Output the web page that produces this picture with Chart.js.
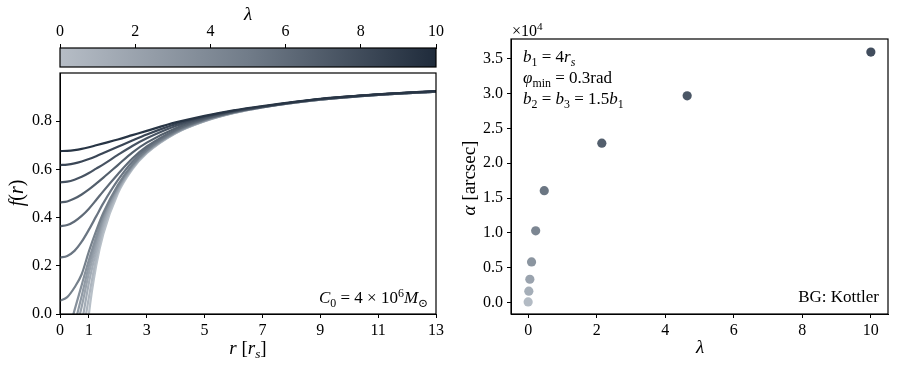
<!DOCTYPE html>
<html>
<head>
<meta charset="utf-8">
<script src="https://cdn.jsdelivr.net/npm/chart.js@4.4.1/dist/chart.umd.min.js"></script>
<style>
  html, body { margin: 0; padding: 0; background: #fff; }
  #wrap { position: relative; width: 897px; height: 368px; }
  #wrap canvas { position: absolute; left: 0; top: 0; }
</style>
</head>
<body>
<div id="wrap">
  <canvas id="cbar" width="897" height="368"></canvas>
  <canvas id="fr" width="897" height="368"></canvas>
  <canvas id="alpha" width="897" height="368"></canvas>
</div>
<script>
// f(r) profiles, lightest (lambda = 0) to darkest
const rGrid = [0, 0.25, 0.5, 0.75, 1, 1.25, 1.5, 2, 2.5, 3, 4, 5, 6, 7, 9, 11, 13];
const fCurve01 = [null, null, null, -0.333, 0, 0.2, 0.333, 0.5, 0.6, 0.667, 0.75, 0.8, 0.833, 0.857, 0.889, 0.909, 0.923];
const fCurve02 = [null, null, -0.35, -0.12, 0.07, 0.23, 0.355, 0.508, 0.604, 0.669, 0.751, 0.8, 0.834, 0.857, 0.889, 0.909, 0.923];
const fCurve03 = [null, null, -0.2, -0.04, 0.13, 0.26, 0.375, 0.515, 0.607, 0.671, 0.752, 0.801, 0.834, 0.857, 0.889, 0.909, 0.923];
const fCurve04 = [null, -0.3, -0.1, 0.03, 0.17, 0.285, 0.39, 0.52, 0.61, 0.673, 0.753, 0.802, 0.835, 0.858, 0.889, 0.909, 0.923];
const fCurve05 = [null, -0.2, -0.05, 0.075, 0.2, 0.305, 0.4, 0.525, 0.613, 0.675, 0.754, 0.803, 0.835, 0.858, 0.889, 0.909, 0.923];
const fCurve06 = [-0.13, -0.09, 0.015, 0.12, 0.225, 0.32, 0.41, 0.53, 0.616, 0.677, 0.755, 0.803, 0.836, 0.858, 0.89, 0.909, 0.923];
const fCurve07 = [0.055, 0.07, 0.11, 0.165, 0.26, 0.345, 0.42, 0.535, 0.62, 0.68, 0.757, 0.805, 0.837, 0.859, 0.89, 0.91, 0.923];
const fCurve08 = [0.234, 0.241, 0.262, 0.3, 0.35, 0.405, 0.46, 0.555, 0.632, 0.687, 0.761, 0.807, 0.838, 0.86, 0.89, 0.91, 0.924];
const fCurve09 = [0.364, 0.369, 0.384, 0.407, 0.437, 0.473, 0.51, 0.58, 0.645, 0.695, 0.764, 0.808, 0.837, 0.859, 0.891, 0.91, 0.924];
const fCurve10 = [0.463, 0.467, 0.479, 0.496, 0.517, 0.541, 0.566, 0.618, 0.67, 0.711, 0.771, 0.811, 0.839, 0.859, 0.891, 0.91, 0.924];
const fCurve11 = [0.546, 0.549, 0.557, 0.569, 0.585, 0.603, 0.621, 0.66, 0.697, 0.729, 0.78, 0.815, 0.841, 0.86, 0.892, 0.911, 0.924];
const fCurve12 = [0.618, 0.62, 0.625, 0.633, 0.643, 0.655, 0.668, 0.694, 0.72, 0.745, 0.788, 0.819, 0.843, 0.861, 0.892, 0.911, 0.925];
const fCurve13 = [0.676, 0.677, 0.68, 0.685, 0.692, 0.7, 0.708, 0.724, 0.742, 0.76, 0.795, 0.822, 0.845, 0.863, 0.893, 0.911, 0.925];

// deflection angle vs lambda (right panel), alpha in arcsec
const lambdaVals = [0, 0.02, 0.05, 0.1, 0.22, 0.47, 2.15, 4.64, 10];
const alphaVals = [100, 1630, 3350, 5840, 10300, 16060, 22880, 29680, 35970];

// tick labels
const rTicks = [0, 1, 3, 5, 7, 9, 11, 13];
const fTicks = [0, 0.2, 0.4, 0.6, 0.8];
const lamTicks = [0, 2, 4, 6, 8, 10];
const alphaTicks = [0, 5000, 10000, 15000, 20000, 25000, 30000, 35000];

const curves = [fCurve01, fCurve02, fCurve03, fCurve04, fCurve05, fCurve06, fCurve07,
                fCurve08, fCurve09, fCurve10, fCurve11, fCurve12, fCurve13];
const curveColors = ['#b8c0c8', '#adb5be', '#a3acb6', '#9aa3ad', '#909aa5', '#87919c', '#76818c',
                     '#6a7582', '#5f6a77', '#535f6c', '#475362', '#3a4656', '#283545'];
const dotColors = ['#b3bbc4', '#a5aeb8', '#9aa3ae', '#8b95a0', '#7c8692', '#6b7683', '#535f6d', '#4a5665', '#414d5d'];

const FAMILY = "'Liberation Serif', 'DejaVu Serif', serif";
const tickFont = { family: FAMILY, size: 16 };

function drawRich(ctx, runs, x, y, size, align, rot) {
    const fontFor = (r) => (r.it ? 'italic ' : '') + ((r.sub || r.sup) ? size * 0.7 : size) + 'px ' + FAMILY;
    let w = 0;
    runs.forEach(r => { ctx.font = fontFor(r); r.w = ctx.measureText(r.t).width; w += r.w; });
    ctx.save();
    ctx.translate(x, y);
    if (rot) ctx.rotate(rot);
    let cx = align === 'center' ? -w / 2 : align === 'right' ? -w : 0;
    ctx.textBaseline = 'middle';
    ctx.textAlign = 'left';
    ctx.fillStyle = '#000';
    runs.forEach(r => {
        ctx.font = fontFor(r);
        const dy = r.sub ? size * 0.28 : r.sup ? -size * 0.33 : 0;
        ctx.fillText(r.t, cx, dy);
        cx += r.w;
    });
    ctx.restore();
}

const framePlugin = {
    id: 'frame',
    afterDraw(chart) {
        const a = chart.chartArea, ctx = chart.ctx;
        ctx.save();
        ctx.strokeStyle = '#000';
        ctx.lineWidth = 1.2;
        ctx.strokeRect(a.left, a.top, a.right - a.left, a.bottom - a.top);
        ctx.restore();
    }
};

function textPlugin(items) {
    return {
        id: 'texts',
        afterDraw(chart) {
            items.forEach(it => drawRich(chart.ctx, it.runs, it.x, it.y, it.size, it.align, it.rot));
        }
    };
}

function axisStyle(extra) {
    return Object.assign({
        type: 'linear',
        grid: { drawOnChartArea: false, tickLength: 4, color: '#000', tickWidth: 1 },
        border: { color: '#000', width: 1 }
    }, extra);
}

const tickOpts = (cb, pad) => ({ color: '#000', font: tickFont, padding: pad, maxRotation: 0, autoSkip: false, callback: cb });

const baseOptions = (padding) => ({
    responsive: false,
    animation: false,
    events: [],
    layout: { padding },
    plugins: { legend: { display: false }, tooltip: { enabled: false } }
});

// colour bar
const cbarPlugin = {
    id: 'cbarFill',
    beforeDatasetsDraw(chart) {
        const a = chart.chartArea, ctx = chart.ctx;
        const g = ctx.createLinearGradient(a.left, 0, a.right, 0);
        g.addColorStop(0, 'rgb(182,189,198)');
        g.addColorStop(0.5, 'rgb(113,124,137)');
        g.addColorStop(1, 'rgb(31,43,59)');
        ctx.save();
        ctx.fillStyle = g;
        ctx.fillRect(a.left, a.top, a.right - a.left, a.bottom - a.top);
        ctx.restore();
    }
};

new Chart(document.getElementById('cbar'), {
    type: 'line',
    data: { datasets: [] },
    options: Object.assign(baseOptions({ left: 60, right: 461, top: 0, bottom: 301 }), {
        scales: {
            x: axisStyle({
                position: 'top', min: 0, max: 10,
                afterBuildTicks: s => { s.ticks = lamTicks.map(v => ({ value: v })); },
                afterFit: s => { s.height = 48; },
                ticks: tickOpts(v => String(v), 3)
            }),
            y: { display: false, min: 0, max: 1 }
        }
    }),
    plugins: [cbarPlugin, framePlugin, textPlugin([
        { runs: [{ t: 'λ', it: true }], x: 248, y: 15, size: 19, align: 'center' }
    ])]
});

// left panel: f(r)
new Chart(document.getElementById('fr'), {
    type: 'line',
    data: {
        datasets: curves.map((vals, i) => ({
            data: rGrid.map((r, j) => ({ x: r, y: vals[j] })).filter(p => p.y !== null),
            borderColor: curveColors[i],
            borderWidth: 2.2,
            pointRadius: 0,
            fill: false,
            cubicInterpolationMode: 'monotone',
            order: curves.length - i
        }))
    },
    options: Object.assign(baseOptions({ left: 0, right: 461, top: 73, bottom: 0 }), {
        scales: {
            x: axisStyle({
                min: 0, max: 13,
                afterBuildTicks: s => { s.ticks = rTicks.map(v => ({ value: v })); },
                afterFit: s => { s.height = 54; },
                ticks: tickOpts(v => String(v), 3)
            }),
            y: axisStyle({
                min: 0, max: 1,
                afterBuildTicks: s => { s.ticks = fTicks.map(v => ({ value: v })); },
                afterFit: s => { s.width = 60; },
                ticks: tickOpts(v => v.toFixed(1), 4)
            })
        }
    }),
    plugins: [framePlugin, textPlugin([
        { runs: [{ t: 'r', it: true }, { t: ' [' }, { t: 'r', it: true }, { t: 's', it: true, sub: true }, { t: ']' }], x: 248, y: 349, size: 19, align: 'center' },
        { runs: [{ t: 'f', it: true }, { t: '(' }, { t: 'r', it: true }, { t: ')' }], x: 18, y: 193, size: 20, align: 'center', rot: -Math.PI / 2 },
        { runs: [{ t: 'C', it: true }, { t: '0', sub: true }, { t: ' = 4 × 10' }, { t: '6', sup: true }, { t: 'M', it: true }, { t: '⊙', sub: true }], x: 428, y: 299, size: 17, align: 'right' }
    ])]
});

// right panel: alpha vs lambda
new Chart(document.getElementById('alpha'), {
    type: 'scatter',
    data: {
        datasets: [{
            data: lambdaVals.map((l, i) => ({ x: l, y: alphaVals[i] })),
            pointBackgroundColor: dotColors,
            pointBorderWidth: 0,
            pointRadius: 4.6
        }]
    },
    options: Object.assign(baseOptions({ left: 460, right: 9, top: 39, bottom: 0 }), {
        scales: {
            x: axisStyle({
                min: -0.5, max: 10.5,
                afterBuildTicks: s => { s.ticks = lamTicks.map(v => ({ value: v })); },
                afterFit: s => { s.height = 54; },
                ticks: tickOpts(v => String(v), 3)
            }),
            y: axisStyle({
                min: -1640, max: 37840,
                afterBuildTicks: s => { s.ticks = alphaTicks.map(v => ({ value: v })); },
                afterFit: s => { s.width = 51; },
                ticks: tickOpts(v => (v / 10000).toFixed(1), 4)
            })
        }
    }),
    plugins: [framePlugin, textPlugin([
        { runs: [{ t: 'λ', it: true }], x: 700, y: 348, size: 19, align: 'center' },
        { runs: [{ t: 'α', it: true }, { t: ' [arcsec]' }], x: 470, y: 178, size: 19, align: 'center', rot: -Math.PI / 2 },
        { runs: [{ t: '×10' }, { t: '4', sup: true }], x: 512, y: 32, size: 16, align: 'left' },
        { runs: [{ t: 'b', it: true }, { t: '1', sub: true }, { t: ' = 4' }, { t: 'r', it: true }, { t: 's', it: true, sub: true }], x: 523, y: 58, size: 17, align: 'left' },
        { runs: [{ t: 'φ', it: true }, { t: 'min', sub: true }, { t: ' = 0.3rad' }], x: 523, y: 79, size: 17, align: 'left' },
        { runs: [{ t: 'b', it: true }, { t: '2', sub: true }, { t: ' = ' }, { t: 'b', it: true }, { t: '3', sub: true }, { t: ' = 1.5' }, { t: 'b', it: true }, { t: '1', sub: true }], x: 523, y: 100, size: 17, align: 'left' },
        { runs: [{ t: 'BG: Kottler' }], x: 879, y: 298, size: 17, align: 'right' }
    ])]
});
</script>
</body>
</html>
